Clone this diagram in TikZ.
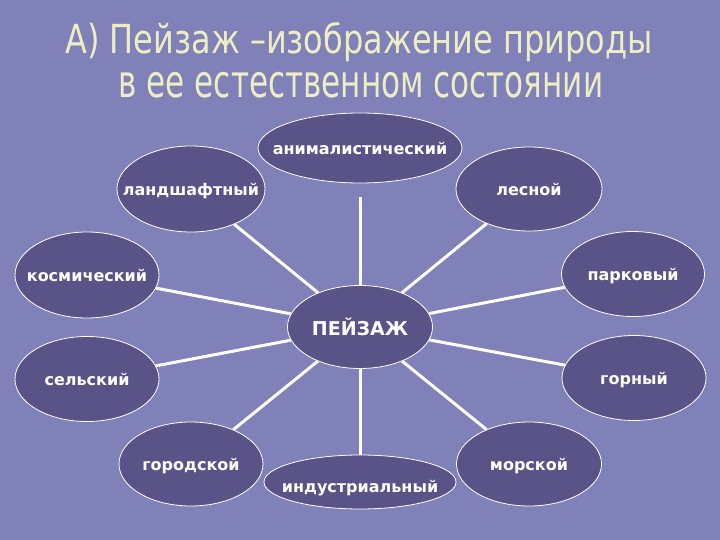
\documentclass[tikz,border=0pt]{standalone}
\usepackage{fontspec}
\setmainfont{DejaVu Sans}
\usetikzlibrary{shapes.geometric,backgrounds}
\definecolor{bgblue}{RGB}{128,129,184}
\definecolor{ellfill}{RGB}{90,83,135}
\definecolor{titleyellow}{RGB}{238,238,196}
\newcommand\ovaltext[2][6.5pt]{\raisebox{-#1}[0pt][0pt]{\makebox[0pt]{#2}}}
\begin{document}
\begin{tikzpicture}[x=1pt,y=-1pt,
  oval/.style={ellipse, draw=white, line width=0.8pt, fill=ellfill, inner sep=0pt,
    text=white, font=\bfseries\fontsize{16}{18}\selectfont},
  link/.style={draw=white, line width=3pt},
  titletext/.style={text=titleyellow, inner sep=0pt, anchor=base}
]
\begin{scope}[on background layer]
  \fill[bgblue] (0,0) rectangle (720,540);
\end{scope}
\useasboundingbox (0,0) rectangle (720,540);

% title
\node[titletext, font=\fontsize{40}{44}\selectfont] (t1) at (359,54) {\scalebox{0.8}[1]{А) Пейзаж –изображение природы}};
\node[titletext, font=\fontsize{45}{48}\selectfont] (t2) at (361,98) {\scalebox{0.69}[1]{в ее естественном состоянии}};

% nodes
\node[oval, minimum width=204pt, minimum height=70pt] (anim) at (360,148) {\ovaltext{анималистический}};
\node[oval, minimum width=148pt, minimum height=86pt] (land) at (191,189) {\ovaltext{ландшафтный}};
\node[oval, minimum width=146pt, minimum height=84pt] (les) at (529,189) {\ovaltext{лесной}};
\node[oval, minimum width=144pt, minimum height=86pt] (kosm) at (87,275) {\ovaltext{космический}};
\node[oval, minimum width=143pt, minimum height=85pt] (park) at (633,274) {\ovaltext{парковый}};
\node[oval, minimum width=145pt, minimum height=83pt, font=\bfseries\fontsize{19}{21}\selectfont] (center) at (360,327) {\ovaltext[8pt]{ПЕЙЗАЖ}};
\node[oval, minimum width=144pt, minimum height=85pt] (sel) at (87,379) {\ovaltext{сельский}};
\node[oval, minimum width=144pt, minimum height=85pt] (gor) at (634,378) {\ovaltext{горный}};
\node[oval, minimum width=144pt, minimum height=84pt] (gorod) at (191,464) {\ovaltext{городской}};
\node[oval, minimum width=145pt, minimum height=84pt] (mor) at (529,464) {\ovaltext{морской}};
\node[oval, minimum width=192pt, minimum height=54pt] (ind) at (360,482) {\ovaltext[10.5pt]{индустриальный}};

% connectors
\begin{scope}[on background layer]
  \draw[link, shorten <=14pt] (anim) -- (center);
  \draw[link] (land) -- (center);
  \draw[link] (les) -- (center);
  \draw[link] (kosm) -- (center);
  \draw[link] (park) -- (center);
  \draw[link] (sel) -- (center);
  \draw[link] (gor) -- (center);
  \draw[link] (gorod) -- (center);
  \draw[link] (mor) -- (center);
  \draw[link] (ind) -- (center);
\end{scope}
\end{tikzpicture}
\end{document}
